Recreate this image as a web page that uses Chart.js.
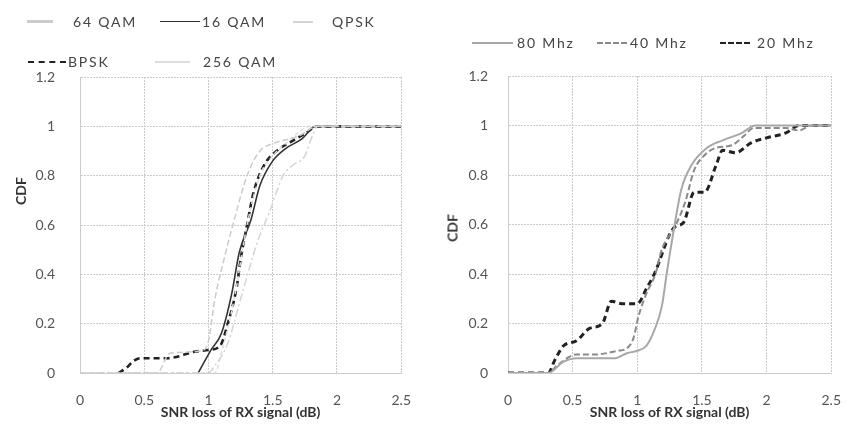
<!DOCTYPE html>
<html>
<head>
<meta charset="utf-8">
<script src="https://cdn.jsdelivr.net/npm/chart.js@4.4.1/dist/chart.umd.min.js"></script>
<style>
  body { margin: 0; background: #fff; font-family: Lato, "Open Sans", sans-serif; }
  #wrap { position: relative; width: 860px; height: 434px; overflow: hidden; }
  canvas { position: absolute; top: 0; }
  .leg { position: absolute; height: 16px; line-height: 16px; font-size: 14px; color: #444; letter-spacing: 1.8px; white-space: nowrap; }
  .line { position: absolute; height: 0; }
  .ytitle { position: absolute; font-weight: bold; font-size: 14px; color: #333; transform: translate(-50%, -50%) rotate(-90deg); }
</style>
</head>
<body>
<div id="wrap">
  <canvas id="left" width="430" height="434" style="left:0"></canvas>
  <canvas id="right" width="430" height="434" style="left:430px"></canvas>
  <div class="ytitle" style="left:20px; top:191px">CDF</div>
  <div class="ytitle" style="left:452px; top:228px">CDF</div>
</div>
<script>
    // tick labels
    const xTickLabels = ['0', '0.5', '1', '1.5', '2', '2.5'];
    const yTickLabels = ['0', '0.2', '0.4', '0.6', '0.8', '1', '1.2'];

    // left chart: modulation
    const qam64X = [0, 0.6, 0.7, 0.95, 1.0, 1.05, 1.13, 1.2, 1.3, 1.4, 1.5, 1.7, 1.85, 2.5];
    const qam64Y = [0, 0, 0.08, 0.09, 0.13, 0.3, 0.48, 0.62, 0.8, 0.9, 0.93, 0.96, 1, 1];
    const qam16X = [0.92, 1.02, 1.1, 1.18, 1.24, 1.33, 1.4, 1.5, 1.6, 1.73, 1.83, 2.5];
    const qam16Y = [0, 0.094, 0.16, 0.32, 0.49, 0.62, 0.76, 0.86, 0.91, 0.95, 1.0, 1.0];
    const qpskX = [0, 1.0, 1.05, 1.15, 1.25, 1.38, 1.48, 1.58, 1.65, 1.75, 1.8, 1.85, 2.5];
    const qpskY = [0, 0, 0.03, 0.12, 0.3, 0.53, 0.66, 0.8, 0.84, 0.88, 0.95, 1, 1];
    const bpskX = [0.3, 0.36, 0.42, 0.47, 0.68, 0.9, 1.0, 1.09, 1.15, 1.22, 1.25, 1.3, 1.35, 1.43, 1.53, 1.65, 1.75, 1.85, 2.5];
    const bpskY = [0, 0.02, 0.05, 0.06, 0.06, 0.087, 0.093, 0.11, 0.2, 0.35, 0.46, 0.6, 0.73, 0.84, 0.9, 0.94, 0.97, 1.0, 1.0];
    const qam256X = [0, 1.05, 1.1, 1.2, 1.3, 1.4, 1.5, 1.6, 1.8, 2.5];
    const qam256Y = [0, 0, 0.08, 0.3, 0.6, 0.8, 0.88, 0.93, 1, 1];

    // right chart: bandwidth
    const mhz80X = [0, 0.31, 0.43, 0.53, 0.68, 0.83, 0.92, 1.0, 1.07, 1.13, 1.19, 1.23, 1.27, 1.34, 1.42, 1.54, 1.66, 1.81, 1.91, 2.5];
    const mhz80Y = [0, 0, 0.046, 0.06, 0.06, 0.06, 0.08, 0.09, 0.11, 0.17, 0.27, 0.41, 0.54, 0.74, 0.84, 0.91, 0.94, 0.97, 1, 1];
    const mhz40X = [0, 0.31, 0.38, 0.53, 0.68, 0.85, 0.92, 0.97, 1.01, 1.07, 1.14, 1.19, 1.29, 1.37, 1.44, 1.52, 1.61, 1.73, 1.83, 1.9, 2.0, 2.15, 2.25, 2.35, 2.5];
    const mhz40Y = [0, 0, 0.03, 0.075, 0.075, 0.09, 0.1, 0.14, 0.23, 0.32, 0.4, 0.5, 0.59, 0.69, 0.82, 0.88, 0.91, 0.92, 0.96, 0.99, 0.99, 0.99, 0.98, 1.0, 1.0];
    const mhz20X = [0, 0.31, 0.36, 0.43, 0.53, 0.63, 0.73, 0.8, 0.88, 1.0, 1.07, 1.14, 1.25, 1.29, 1.36, 1.44, 1.52, 1.61, 1.66, 1.76, 1.88, 2.0, 2.15, 2.25, 2.5];
    const mhz20Y = [0, 0, 0.05, 0.11, 0.13, 0.18, 0.2, 0.29, 0.28, 0.28, 0.34, 0.41, 0.56, 0.59, 0.61, 0.73, 0.73, 0.84, 0.9, 0.89, 0.93, 0.95, 0.97, 1.0, 1.0];

    const zip = (xs, ys) => xs.map((x, i) => ({ x: x, y: ys[i] }));

    function lineSet(label, xs, ys, color, width, dash) {
      return {
        label: label, data: zip(xs, ys), borderColor: color, borderWidth: width,
        borderDash: dash, pointRadius: 0, fill: false, cubicInterpolationMode: 'monotone'
      };
    }

    function makeOptions(padRight, padTop, yWidth, yPad) {
      const gridStyle = { color: '#cccccc', drawTicks: false, lineWidth: 1 };
      const border = { color: '#cccccc', dash: [2, 1] };
      return {
        responsive: false, animation: false, devicePixelRatio: 1,
        layout: { padding: { left: 0, top: padTop, right: padRight, bottom: 0 } },
        plugins: { legend: { display: false }, tooltip: { enabled: false } },
        scales: {
          x: {
            type: 'linear', min: 0, max: 2.5,
            ticks: { stepSize: 0.5, padding: 19, color: '#555', font: { family: 'Lato', size: 14 },
              callback: (v, i) => xTickLabels[i] },
            grid: gridStyle, border: border,
            title: { display: true, text: 'SNR loss of RX signal (dB)', color: '#333',
              font: { family: 'Lato', size: 14, weight: 'bold' }, padding: { top: 0, bottom: 13 } },
            afterFit: (s) => { s.height = 61; }
          },
          y: {
            min: 0, max: 1.2,
            ticks: { stepSize: 0.2, padding: yPad, color: '#555', font: { family: 'Lato', size: 14 },
              callback: (v, i) => yTickLabels[i] },
            grid: gridStyle, border: border,
            afterFit: (s) => { s.width = yWidth; }
          }
        }
      };
    }

    const leftChart = new Chart(document.getElementById('left'), {
      type: 'line',
      data: { datasets: [
        lineSet('64 QAM', qam64X, qam64Y, '#cbcbcb', 1.5, [6, 3]),
        lineSet('QPSK', qpskX, qpskY, '#d4d4d4', 1.5, [8, 3, 2, 3]),
        lineSet('256 QAM', qam256X, qam256Y, '#dedede', 1.5, [4, 3]),
        lineSet('16 QAM', qam16X, qam16Y, '#333', 1.6, []),
        lineSet('BPSK', bpskX, bpskY, '#222', 2.6, [6, 4])
      ]},
      options: makeOptions(18, 77, 80, 25)
    });

    const rightChart = new Chart(document.getElementById('right'), {
      type: 'line',
      data: { datasets: [
        lineSet('80 Mhz', mhz80X, mhz80Y, '#a8a8a8', 2, []),
        lineSet('40 Mhz', mhz40X, mhz40Y, '#8a8a8a', 2, [6, 3]),
        lineSet('20 Mhz', mhz20X, mhz20Y, '#222', 3, [6, 4])
      ]},
      options: makeOptions(13, 76, 78, 20)
    });

    // html legends, one entry per dataset label
    const wrap = document.getElementById('wrap');
    function addLegend(chart, spots) {
      chart.data.datasets.forEach((ds) => {
        const s = spots[ds.label];
        const line = document.createElement('div');
        line.className = 'line';
        line.style.left = s.x0 + 'px';
        line.style.width = (s.x1 - s.x0) + 'px';
        line.style.top = (s.y - Math.round(s.w / 2)) + 'px';
        line.style.borderTop = s.w + 'px ' + (s.solid || !ds.borderDash.length ? 'solid ' : 'dashed ') + ds.borderColor;
        wrap.appendChild(line);
        const txt = document.createElement('div');
        txt.className = 'leg';
        txt.textContent = ds.label;
        txt.style.left = s.tx + 'px';
        txt.style.top = (s.y - 8) + 'px';
        wrap.appendChild(txt);
      });
    }

    addLegend(leftChart, {
      '64 QAM': { x0: 27, x1: 53, tx: 73, y: 22, w: 3, solid: true },
      '16 QAM': { x0: 160, x1: 200, tx: 202, y: 22, w: 1 },
      'QPSK': { x0: 293, x1: 313, tx: 332, y: 22, w: 2, solid: true },
      'BPSK': { x0: 28, x1: 66, tx: 68, y: 62, w: 2 },
      '256 QAM': { x0: 155, x1: 190, tx: 203, y: 62, w: 2, solid: true }
    });
    addLegend(rightChart, {
      '80 Mhz': { x0: 472, x1: 513, tx: 517, y: 43, w: 2 },
      '40 Mhz': { x0: 597, x1: 627, tx: 630, y: 43, w: 2 },
      '20 Mhz': { x0: 720, x1: 750, tx: 757, y: 43, w: 2 }
    });
</script>
</body>
</html>
